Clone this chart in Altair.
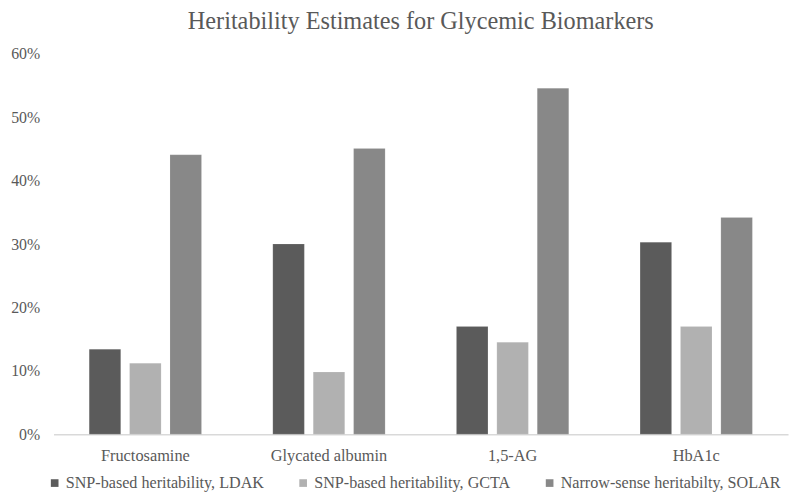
import altair as alt
import pandas as pd

categories = ["Fructosamine", "Glycated albumin", "1,5-AG", "HbA1c"]
series = ["SNP-based heritability, LDAK", "SNP-based heritability, GCTA", "Narrow-sense heritabilty, SOLAR"]
ldak = [0.134, 0.300, 0.170, 0.303]
gcta = [0.112, 0.098, 0.145, 0.170]
solar = [0.441, 0.451, 0.546, 0.342]
colors = ["#5b5b5b", "#b1b1b1", "#888888"]
y_ticks = [0, 0.1, 0.2, 0.3, 0.4, 0.5, 0.6]

rows = []
for vals, s in zip([ldak, gcta, solar], series):
    for c, v in zip(categories, vals):
        rows.append({"cat": c, "series": s, "value": v})
df = pd.DataFrame(rows)

font = "Liberation Serif"
txt = "#595959"

chart = alt.Chart(df).mark_bar(stroke="#ffffff", strokeOpacity=0.25, strokeWidth=0.5).encode(
    x=alt.X("cat:N", sort=categories, title=None,
            scale=alt.Scale(paddingInner=0.34, paddingOuter=0.17),
            axis=alt.Axis(labelAngle=0, ticks=False, labelPadding=14, labelFont=font,
                          labelFontSize=16.5, labelColor=txt, domainColor="#d9d9d9",
                          domainWidth=1.5)),
    xOffset=alt.XOffset("series:N", sort=series,
                        scale=alt.Scale(paddingInner=0.22, paddingOuter=0.11)),
    y=alt.Y("value:Q", title=None,
            scale=alt.Scale(domain=[0, 0.6], nice=False),
            axis=alt.Axis(format=".0%", values=y_ticks, grid=False, domain=False, ticks=False,
                          labelPadding=14, labelFont=font, labelFontSize=16, labelColor=txt)),
    color=alt.Color("series:N", sort=series, title=None,
                    scale=alt.Scale(domain=series, range=colors),
                    legend=alt.Legend(orient="none", legendX=-7, legendY=425, direction="horizontal",
                                      symbolType="square", symbolSize=60, symbolStrokeWidth=0,
                                      labelFont=font, labelFontSize=16.3, labelColor=txt,
                                      columnPadding=31, labelOffset=3, labelLimit=400)),
).properties(
    width=742, height=384,
    padding={"left": 46, "top": 44, "right": 4, "bottom": 60},
    autosize=alt.AutoSizeParams(type="none"),
    title=alt.TitleParams("Heritability Estimates for Glycemic Biomarkers", font=font,
                          fontSize=24.5, color=txt, fontWeight="normal", anchor="middle",
                          offset=12),
).configure_view(stroke=None)

chart.save("out.html", embed_options={"renderer": "svg", "actions": False})
